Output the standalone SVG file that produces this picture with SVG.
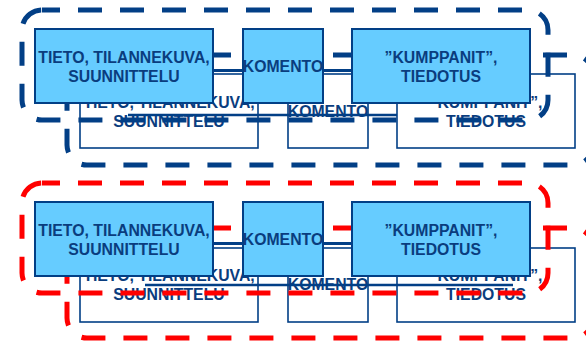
<svg xmlns="http://www.w3.org/2000/svg" width="586" height="341" viewBox="0 0 586 341">
<defs>
<style>
.bg{fill:#fff}
.dash{fill:none;stroke-width:5;stroke-dasharray:24 18;stroke-dashoffset:6}
.blue{stroke:#023F86}
.red{stroke:#FF0000}
.front rect{fill:#66CCFF;stroke:#023F86;stroke-width:2}
.back rect{fill:#fff;stroke:#023F86;stroke-width:1.6}
text{font-family:"Liberation Sans",Arial,sans-serif;font-weight:bold;font-size:15.8px;fill:#0A3D7E;text-anchor:middle}
.conn{stroke:#023F86;fill:none}
</style>
</defs>
<rect class="bg" width="586" height="341"/>

<!-- BLUE SET -->
<g id="blue-set">
  <rect id="blue-back-frame" class="dash blue" x="67" y="55" width="526" height="110" rx="20"/>
  <g id="blue-back-a" class="back"><rect x="80" y="74" width="178" height="74"/><text x="169" y="108">TIETO, TILANNEKUVA,</text><text x="169" y="127">SUUNNITTELU</text></g>
  <g id="blue-back-b" class="back"><rect x="288" y="74" width="80" height="74"/><text x="328" y="117">KOMENTO</text></g>
  <g id="blue-back-c" class="back"><rect x="397" y="74" width="178" height="74"/><text x="486" y="108">”KUMPPANIT”,</text><text x="486" y="127">TIEDOTUS</text></g>
  <g id="blue-back-connectors"><line class="conn" x1="128" y1="115" x2="397" y2="115" stroke-width="2.5"/></g>
  <rect id="blue-front-frame" class="dash blue" x="22" y="10" width="526" height="110" rx="20"/>
  <g id="blue-front-connectors"><line class="conn" x1="213" y1="70.5" x2="352" y2="70.5" stroke-width="3"/></g>
  <g id="blue-front-a" class="front"><rect x="35" y="29" width="178" height="74"/><text x="124" y="63">TIETO, TILANNEKUVA,</text><text x="124" y="82">SUUNNITTELU</text></g>
  <g id="blue-front-b" class="front"><rect x="243" y="29" width="80" height="74"/><text x="283" y="72">KOMENTO</text></g>
  <g id="blue-front-c" class="front"><rect x="352" y="29" width="178" height="74"/><text x="441" y="63">”KUMPPANIT”,</text><text x="441" y="82">TIEDOTUS</text></g>
</g>

<!-- RED SET -->
<g id="red-set">
  <rect id="red-back-frame" class="dash red" x="67" y="228" width="526" height="110" rx="20"/>
  <g id="red-back-a" class="back"><rect x="80" y="248" width="178" height="74"/><text x="169" y="281">TIETO, TILANNEKUVA,</text><text x="169" y="300">SUUNNITTELU</text></g>
  <g id="red-back-b" class="back"><rect x="288" y="248" width="80" height="74"/><text x="328" y="290">KOMENTO</text></g>
  <g id="red-back-c" class="back"><rect x="397" y="248" width="178" height="74"/><text x="486" y="281">”KUMPPANIT”,</text><text x="486" y="300">TIEDOTUS</text></g>
  <g id="red-back-connectors"><line class="conn" x1="145" y1="285" x2="513" y2="285" stroke-width="2.5"/></g>
  <rect id="red-front-frame" class="dash red" x="22" y="183" width="526" height="110" rx="20"/>
  <g id="red-front-connectors"><line class="conn" x1="213" y1="243.5" x2="352" y2="243.5" stroke-width="3"/></g>
  <g id="red-front-a" class="front"><rect x="35" y="202" width="178" height="74"/><text x="124" y="236">TIETO, TILANNEKUVA,</text><text x="124" y="255">SUUNNITTELU</text></g>
  <g id="red-front-b" class="front"><rect x="243" y="202" width="80" height="74"/><text x="283" y="245">KOMENTO</text></g>
  <g id="red-front-c" class="front"><rect x="352" y="202" width="178" height="74"/><text x="441" y="236">”KUMPPANIT”,</text><text x="441" y="255">TIEDOTUS</text></g>
</g>
</svg>
